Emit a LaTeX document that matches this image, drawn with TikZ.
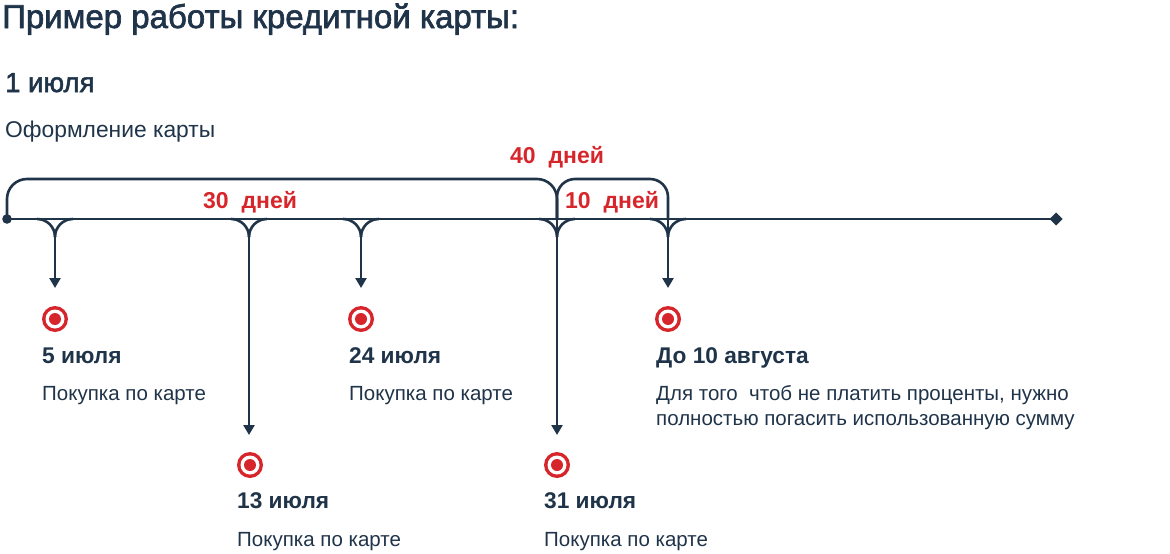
\documentclass[tikz,border=0pt]{standalone}
\usepackage{fontspec}
\setmainfont{Liberation Sans}
\newfontfamily\medfont[FakeBold=2]{Liberation Sans}
\usetikzlibrary{arrows.meta}
\definecolor{navy}{HTML}{1F3349}
\definecolor{cred}{HTML}{D7262B}
\tikzset{
  line/.style={draw=navy,line width=2.6pt},
  arr/.style={line,-{Triangle[width=11pt,length=10pt]}},
  lbl/.style={inner sep=0pt,anchor=base west,text=navy},
  title/.style={lbl,font=\medfont\fontsize{33}{36}\selectfont},
  date/.style={lbl,font=\bfseries\fontsize{22.7}{26}\selectfont},
  desc/.style={lbl,font=\fontsize{20.5}{24}\selectfont},
  days/.style={lbl,text=cred,font=\bfseries\fontsize{23}{26}\selectfont},
  target/.style={circle,fill=cred,minimum size=26pt,inner sep=0pt,
    path picture={\fill[white] (path picture bounding box.center) circle (9.5pt);
                  \fill[cred] (path picture bounding box.center) circle (6pt);}},
}
\newcommand{\forkat}[1]{%
  \draw[line] (#1-18,219) .. controls (#1-8,219) and (#1,227) .. (#1,237);
  \draw[line] (#1+18,219) .. controls (#1+8,219) and (#1,227) .. (#1,237);}
\begin{document}
\begin{tikzpicture}[x=1pt,y=-1pt]
\useasboundingbox (0,0) rectangle (1170,554);
% texts
\node[title] (t) at (2,28) {Пример работы кредитной карты:};
\node[lbl,font=\medfont\fontsize{27.5}{30}\selectfont] (d1) at (5,92) {1 июля};
\node[desc,font=\fontsize{22.8}{26}\selectfont] (d1d) at (5,137) {Оформление карты};
\node[days] (l40) at (510,163) {40~ дней};
\node[days] (l30) at (203,208) {30~ дней};
\node[days] (l10) at (565,208) {10~ дней};
% coordinates
\coordinate (start) at (7,219);
\coordinate (end) at (1056,219);
\foreach \n/\x in {a/55,b/249,c/361,d/557,e/668} {\coordinate (f\n) at (\x,237);}
\coordinate (ea) at (55,288);
\coordinate (eb) at (249,435);
\coordinate (ec) at (361,288);
\coordinate (ed) at (557,435);
\coordinate (ee) at (668,288);
% main line
\draw[line] (start) -- (end);
\fill[navy] (start) circle (4.8pt);
\fill[navy] (end) ++(-6.5,0) -- ++(6.5,-6.5) -- ++(6.5,6.5) -- ++(-6.5,6.5) -- cycle;
% brackets
\draw[line,rounded corners=20pt] (start) -- (7,179) -- (557,179) -- (557,219);
\draw[line,rounded corners=18pt] (557,219) -- (557,179) -- (668,179) -- (668,219);
% forks
\foreach \x in {55,249,361,557,668} {\forkat{\x}}
% arrows
\draw[arr] (fa) -- (ea);
\draw[arr] (fb) -- (eb);
\draw[arr] (fc) -- (ec);
\draw[arr] (fd) -- (ed);
\draw[arr] (fe) -- (ee);
\draw[line] (557,219) -- (fd);
\draw[line] (668,219) -- (fe);
% targets
\node[target] (ta) at (55,319) {};
\node[target] (tc) at (361,319) {};
\node[target] (te) at (668,319) {};
\node[target] (tb) at (250,465) {};
\node[target] (td) at (557,465) {};
% labels
\node[date] (a1) at (42,363) {5 июля};
\node[desc] (a2) at (42,400) {Покупка по карте};
\node[date] (c1) at (349,363) {24 июля};
\node[desc] (c2) at (349,400) {Покупка по карте};
\node[date] (e1) at (656,363) {До 10 августа};
\node[desc] (e2) at (656,400) {Для того~ чтоб не платить проценты, нужно};
\node[desc] (e3) at (656,425) {полностью погасить использованную сумму};
\node[date] (b1) at (237,508) {13 июля};
\node[desc] (b2) at (237,546) {Покупка по карте};
\node[date] (d1x) at (544,508) {31 июля};
\node[desc] (d2) at (544,546) {Покупка по карте};
\end{tikzpicture}
\end{document}
